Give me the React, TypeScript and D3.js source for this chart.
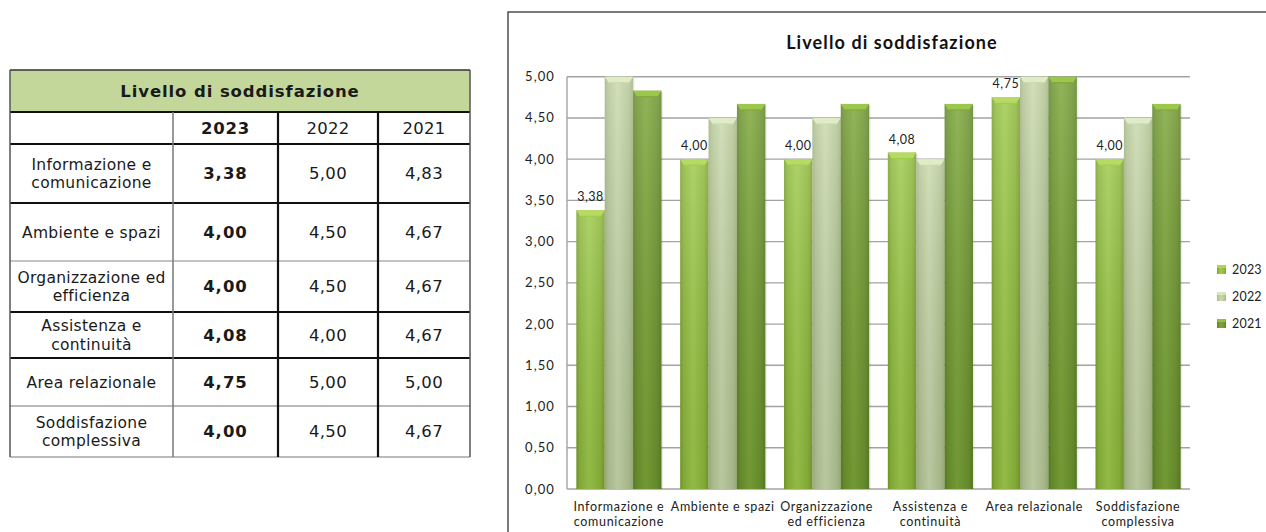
import React from "react";
import * as d3 from "d3";

const categories = [
  "Informazione e comunicazione",
  "Ambiente e spazi",
  "Organizzazione ed efficienza",
  "Assistenza e continuità",
  "Area relazionale",
  "Soddisfazione complessiva",
];
const tableLabels = [
  ["Informazione e", "comunicazione"],
  ["Ambiente e spazi"],
  ["Organizzazione ed", "efficienza"],
  ["Assistenza e", "continuità"],
  ["Area relazionale"],
  ["Soddisfazione", "complessiva"],
];
const chartLabels = [
  ["Informazione e", "comunicazione"],
  ["Ambiente e spazi"],
  ["Organizzazione", "ed efficienza"],
  ["Assistenza e", "continuità"],
  ["Area relazionale"],
  ["Soddisfazione", "complessiva"],
];
const years = ["2023", "2022", "2021"];
const values2023 = [3.38, 4.0, 4.0, 4.08, 4.75, 4.0];
const values2022 = [5.0, 4.5, 4.5, 4.0, 5.0, 4.5];
const values2021 = [4.83, 4.67, 4.67, 4.67, 5.0, 4.67];
const seriesValues = [values2023, values2022, values2021];
const yTicks = [0, 0.5, 1, 1.5, 2, 2.5, 3, 3.5, 4, 4.5, 5];
const title = "Livello di soddisfazione";

const fmt = (v: number) => d3.format(".2f")(v).replace(".", ",");

// styling
const seriesColors = [
  { dark: "#789e2c", mid: "#8cb73a", light: "#9fca4c", cap: "#b6da62" },
  { dark: "#a2b482", mid: "#b4c695", light: "#c9d9ad", cap: "#e0ebc8" },
  { dark: "#5c8224", mid: "#6c932e", light: "#7ca638", cap: "#9cc64c" },
];

const TF = "'DejaVu Sans', Verdana, sans-serif";
const CF = "Lato, 'Open Sans', sans-serif";

function Table() {
  const rows = [70, 112, 144, 203, 261, 312, 358, 406, 457];
  const cols = [10, 173, 278, 378, 470];
  const hStyles = [
    { c: "#333", w: 1.5 },
    { c: "#111", w: 2 },
    { c: "#111", w: 2.2 },
    { c: "#111", w: 2.2 },
    { c: "#888", w: 1 },
    { c: "#111", w: 2.2 },
    { c: "#111", w: 2.2 },
    { c: "#777", w: 1.2 },
    { c: "#777", w: 1.2 },
  ];
  const vStyles = [
    { c: "#555", w: 1.5 },
    { c: "#777", w: 1.5 },
    { c: "#111", w: 2.2 },
    { c: "#111", w: 2.2 },
    { c: "#555", w: 1.5 },
  ];
  const colCenter = (i: number) => (cols[i] + cols[i + 1]) / 2;
  return (
    <g fontFamily={TF} fill="#1a1a1a">
      <rect x={cols[0]} y={rows[0]} width={cols[4] - cols[0]} height={rows[1] - rows[0]} fill="#c4d79b" />
      <rect x={cols[0]} y={rows[1]} width={cols[4] - cols[0]} height={rows[8] - rows[1]} fill="#fff" />
      <text x={(cols[0] + cols[4]) / 2} y={(rows[0] + rows[1]) / 2} dy="0.36em" textAnchor="middle" fontWeight="bold" fontSize={16.5} letterSpacing={0.9}>
        {title}
      </text>
      {years.map((yr, i) => (
        <text key={yr} x={colCenter(i + 1)} y={(rows[1] + rows[2]) / 2} dy="0.36em" textAnchor="middle" fontSize={16.5} letterSpacing={i === 0 ? 0.8 : 0.3} fontWeight={i === 0 ? "bold" : "normal"}>
          {yr}
        </text>
      ))}
      {tableLabels.map((lines, r) => {
        const cy = (rows[r + 2] + rows[r + 3]) / 2;
        return (
          <g key={r}>
            {lines.map((ln, k) => (
              <text key={k} x={colCenter(0)} y={cy + (k - (lines.length - 1) / 2) * 18.5} dy="0.36em" textAnchor="middle" fontSize={15.5} letterSpacing={0.3}>
                {ln}
              </text>
            ))}
            {seriesValues.map((vals, s) => (
              <text key={s} x={colCenter(s + 1)} y={cy} dy="0.36em" textAnchor="middle" fontSize={16.5} letterSpacing={s === 0 ? 1 : 0.3} fontWeight={s === 0 ? "bold" : "normal"}>
                {fmt(vals[r])}
              </text>
            ))}
          </g>
        );
      })}
      {rows.map((ry, i) => (
        <line key={"h" + i} x1={cols[0]} x2={cols[4]} y1={ry} y2={ry} stroke={hStyles[i].c} strokeWidth={hStyles[i].w} />
      ))}
      {cols.map((cx, i) => (
        <line key={"v" + i} x1={cx} x2={cx} y1={i === 0 || i === 4 ? rows[0] : rows[1]} y2={rows[8]} stroke={vStyles[i].c} strokeWidth={vStyles[i].w} />
      ))}
    </g>
  );
}

function Chart() {
  const x = d3.scaleBand<string>().domain(categories).range([567, 1190]).paddingInner(0.18).paddingOuter(0.09);
  const xs = d3.scaleBand<string>().domain(years).range([0, x.bandwidth()]);
  const y = d3.scaleLinear().domain([0, 5]).range([489, 76.7]);
  const bw = xs.bandwidth();
  return (
    <g fontFamily={CF}>
      <defs>
        {seriesColors.map((c, i) => (
          <linearGradient key={i} id={"bg" + i} x1="0" x2="1" y1="0" y2="0">
            <stop offset="0" stopColor={c.dark} />
            <stop offset="0.12" stopColor={c.mid} />
            <stop offset="0.45" stopColor={c.light} />
            <stop offset="0.85" stopColor={c.mid} />
            <stop offset="1" stopColor={c.dark} />
          </linearGradient>
        ))}
        <linearGradient id="vshade" x1="0" x2="0" y1="0" y2="1">
          <stop offset="0" stopColor="#ffffff" stopOpacity={0.16} />
          <stop offset="1" stopColor="#000000" stopOpacity={0.08} />
        </linearGradient>
      </defs>
      <rect x={508} y={12} width={800} height={560} fill="#fff" stroke="#222" strokeWidth={1.2} />
      <text x={892} y={49} textAnchor="middle" fontWeight="bold" fontSize={18} letterSpacing={1.1} fill="#111">
        {title}
      </text>
      {yTicks.map((t) => (
        <g key={t}>
          <line x1={567} x2={1190} y1={y(t)} y2={y(t)} stroke="#a3a3a3" strokeWidth={1.4} />
          <text x={555} y={y(t)} dy="0.35em" textAnchor="end" fontSize={13} letterSpacing={1.1} fill="#222">
            {fmt(t)}
          </text>
        </g>
      ))}
      <line x1={567} x2={567} y1={y(5)} y2={y(0)} stroke="#a3a3a3" strokeWidth={1.4} />
      {categories.map((cat, ci) => (
        <g key={cat} transform={`translate(${x(cat)},0)`}>
          {years.map((yr, si) => {
            const v = seriesValues[si][ci];
            const bx = xs(yr)!;
            const top = y(v);
            const h = y(0) - top;
            const c = seriesColors[si];
            const bev = 6;
            return (
              <g key={yr}>
                <rect x={bx + 1.5} y={top + 1.5} width={bw} height={h - 1.5} fill="#000" opacity={0.08} />
                <rect x={bx} y={top} width={bw} height={h} fill={`url(#bg${si})`} />
                <rect x={bx} y={top} width={bw} height={h} fill="url(#vshade)" />
                <polygon
                  points={`${bx},${top} ${bx + bw},${top} ${bx + bw - 4},${top + bev} ${bx + 4},${top + bev}`}
                  fill={c.cap}
                />
                <line x1={bx + 4} x2={bx + bw - 4} y1={top + bev} y2={top + bev} stroke={c.light} strokeWidth={1} />
              </g>
            );
          })}
          <text x={xs(years[0])! + bw / 2} y={y(values2023[ci]) - 9} textAnchor="middle" fontSize={12.5} letterSpacing={0.5} fill="#222">
            {fmt(values2023[ci])}
          </text>
          {chartLabels[ci].map((ln, k) => (
            <text key={k} x={x.bandwidth() / 2} y={511 + k * 15} textAnchor="middle" fontSize={12.5} letterSpacing={0.65} fill="#222">
              {ln}
            </text>
          ))}
        </g>
      ))}
      {years.map((yr, i) => (
        <g key={yr} transform={`translate(1217,${269.5 + i * 27})`}>
          <rect x={0} y={-4.5} width={9} height={9} fill={`url(#bg${i})`} />
          <rect x={0} y={-4.5} width={9} height={3} fill={seriesColors[i].cap} opacity={0.8} />
          <text x={15} y={0} dy="0.35em" fontSize={12.5} letterSpacing={0.2} fill="#222">
            {yr}
          </text>
        </g>
      ))}
    </g>
  );
}

export default function App() {
  return (
    <svg width={1266} height={532} style={{ position: "absolute", left: 0, top: 0, background: "#fff" }}>
      <rect width={1266} height={532} fill="#fff" />
      <Table />
      <Chart />
    </svg>
  );
}
